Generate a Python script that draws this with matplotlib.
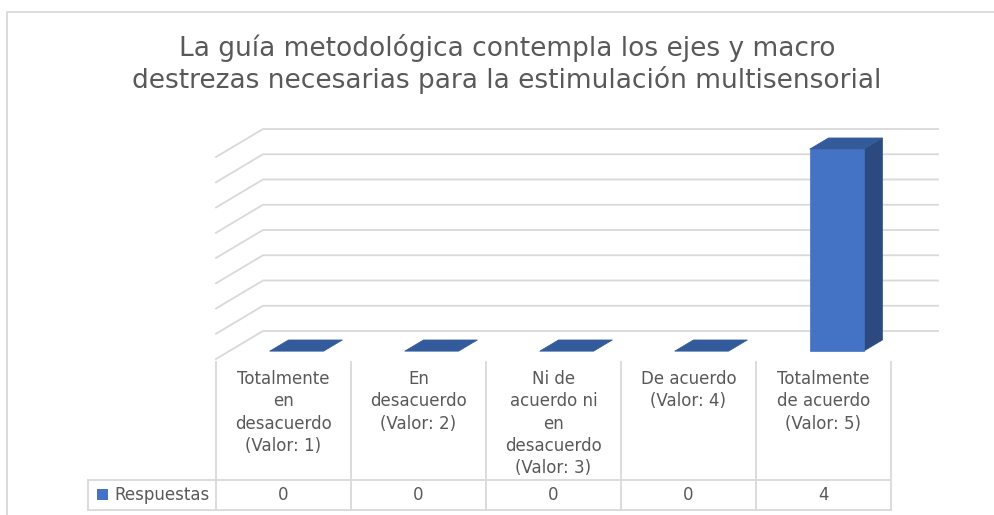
import numpy as np
import matplotlib
matplotlib.use("Agg")
import matplotlib.pyplot as plt
from matplotlib.lines import Line2D
from matplotlib.patches import Polygon, Rectangle
from matplotlib.transforms import IdentityTransform

# --- data ---
title = "La guía metodológica contempla los ejes y macro\ndestrezas necesarias para la estimulación multisensorial"
categories = [
    "Totalmente\nen\ndesacuerdo\n(Valor: 1)",
    "En\ndesacuerdo\n(Valor: 2)",
    "Ni de\nacuerdo ni\nen\ndesacuerdo\n(Valor: 3)",
    "De acuerdo\n(Valor: 4)",
    "Totalmente\nde acuerdo\n(Valor: 5)",
]
series_name = "Respuestas"
values = [0, 0, 0, 0, 4]
gridlines = np.arange(0, 4.01, 0.5)

# --- style ---
W, H = 995, 515
DPI = 100
FRONT = "#4472C4"
SIDE = "#2C4A7F"
TOP = "#335A9B"
GRID = "#D9D9D9"
TXT = "#595959"
FONT = "DejaVu Sans"
DX, DY = 47, 28          # full floor depth in pixels
D0, D1 = 0.28, 0.68      # bar front / back depth fraction
BW = 0.4                 # bar width in category units

fig = plt.figure(figsize=(W / DPI, H / DPI), dpi=DPI)
fig.patch.set_facecolor("white")

# axes = front plane of the 3D box
left, right = 216, 891
y0, ytop = 359, 157
ax = fig.add_axes([left / W, (H - y0) / H, (right - left) / W, (y0 - ytop) / H])
ax.set_xlim(-0.5, len(values) - 0.5)
ax.set_ylim(0, 4)
ax.axis("off")


def P(x, v, d):
    px, py = ax.transData.transform((x, v))
    return px + d * DX, py + d * DY


def pix(x, y):
    # image pixel (y from top) -> display
    return x, H - y


def add_line(pts, **kw):
    xs, ys = zip(*pts)
    fig.add_artist(Line2D(xs, ys, transform=IdentityTransform(), zorder=1, **kw))


def add_poly(pts, color):
    fig.add_artist(Polygon(pts, closed=True, facecolor=color, edgecolor=color,
                           linewidth=0.5, transform=IdentityTransform(), zorder=3))


xl, xr = -0.5, len(values) - 0.5

# chart border
add_line([pix(7, 515), pix(7, 12), pix(995, 12)], color=GRID, lw=1.3)

# walls: back gridlines + side wall lines
for v in gridlines:
    add_line([P(xl, v, 0), P(xl, v, 1), P(xr, v, 1)], color=GRID, lw=1.3)

# bars
for i, v in enumerate(values):
    a, b = i - BW / 2, i + BW / 2
    if v > 0:
        add_poly([P(b, 0, D0), P(b, 0, D1), P(b, v, D1), P(b, v, D0)], SIDE)
        add_poly([P(a, 0, D0), P(b, 0, D0), P(b, v, D0), P(a, v, D0)], FRONT)
    add_poly([P(a, v, D0), P(b, v, D0), P(b, v, D1), P(a, v, D1)], TOP)

# data table
t_top, t_row, t_bot, t_left = 362, 480, 510, 88
xr_px = P(xr, 0, 0)[0]
add_line([pix(t_left, t_row), pix(xr_px, t_row)], color=GRID, lw=1.3)
add_line([pix(t_left, t_bot), pix(xr_px, t_bot)], color=GRID, lw=1.3)
add_line([pix(t_left, t_row), pix(t_left, t_bot)], color=GRID, lw=1.3)
for k in range(len(values) + 1):
    xb = P(xl + k, 0, 0)[0]
    add_line([pix(xb, t_top), pix(xb, t_bot)], color=GRID, lw=1.3)

for i, (c, v) in enumerate(zip(categories, values)):
    cx = P(i, 0, 0)[0]
    fig.text(cx / W, (H - 370) / H, c, ha="center", va="top", fontsize=12,
             color=TXT, family=FONT, linespacing=1.31)
    fig.text(cx / W, (H - 495) / H, str(v), ha="center", va="center",
             fontsize=12, color=TXT, family=FONT)

fig.add_artist(Rectangle((97 / W, (H - 500) / H), 11 / W, 11 / H,
                         facecolor=FRONT, edgecolor="none",
                         transform=fig.transFigure))
fig.text(114 / W, (H - 495) / H, series_name, ha="left", va="center",
         fontsize=12, color=TXT, family=FONT)

# title
fig.text(507 / W, (H - 64) / H, title, ha="center", va="center", fontsize=19,
         color=TXT, family=FONT, linespacing=1.22)

fig.savefig("out.png", dpi=DPI, facecolor="white")
